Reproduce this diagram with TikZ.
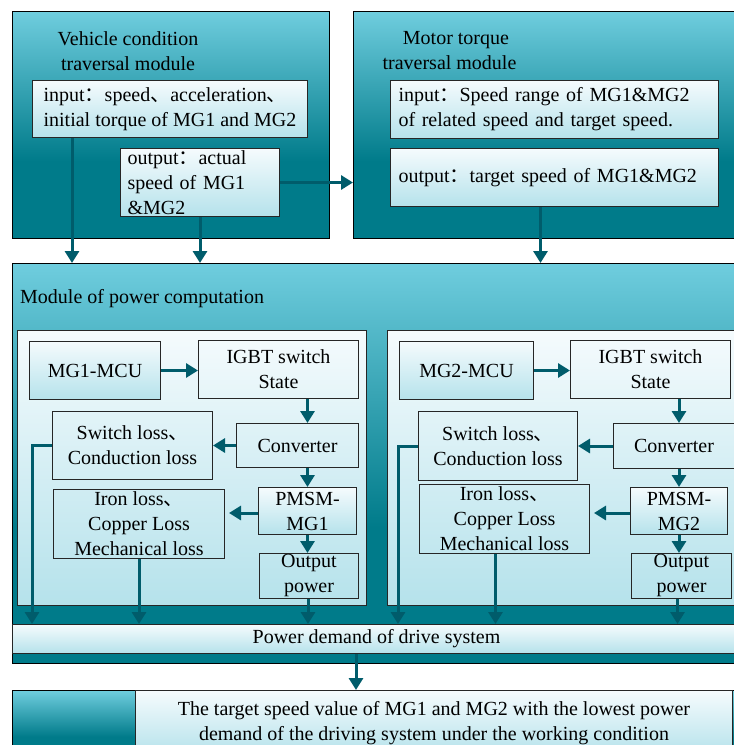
\documentclass[tikz,border=0pt]{standalone}
\usepackage{fontspec}
\setmainfont{Liberation Serif}
\newfontfamily\cjk{Noto Sans CJK SC}
\usetikzlibrary{arrows.meta}
\definecolor{tl}{HTML}{6FCDDE}
\definecolor{td}{HTML}{007B8A}
\definecolor{ac}{HTML}{005C6B}
\definecolor{bt}{HTML}{F5FBFD}
\definecolor{bb}{HTML}{B5E2EB}
\pgfdeclareverticalshading{tealsh}{100bp}{color(0bp)=(td); color(25bp)=(td); color(42bp)=(td); color(75bp)=(tl); color(100bp)=(tl)}
\pgfdeclareverticalshading{lightsh}{100bp}{color(0bp)=(bb); color(25bp)=(bb); color(75bp)=(bt); color(100bp)=(bt)}
\newcommand{\cc}[1]{{\cjk #1}}
\tikzset{
  tealbox/.style={draw=black, line width=1pt, shading=tealsh, inner sep=0pt, anchor=north west},
  lbox/.style={draw=black!85, line width=1pt, shading=lightsh, inner sep=0pt, anchor=north west, align=center},
  obox/.style={draw=black!85, line width=1pt, inner sep=0pt, anchor=north west, align=center},
  txt/.style={inner sep=0pt, align=center},
  arr/.style={draw=ac, line width=3pt, -{Triangle[width=14pt,length=12pt]}},
  ln/.style={draw=ac, line width=3pt}
}
\begin{document}
\begin{tikzpicture}[x=1pt,y=-1pt,font=\fontsize{20}{25}\selectfont]
\useasboundingbox (0,0) rectangle (734,745);
\begin{scope}
\clip (0,0) rectangle (734,745);
\fill[white] (0,0) rectangle (734,745);
% top modules
\node[tealbox, minimum width=317pt, minimum height=227pt] (veh) at (12,11) {};
\node[tealbox, minimum width=392pt, minimum height=227pt] (mot) at (353,11) {};
\node[txt] (vehT) at (128,51) {Vehicle condition\\traversal module};
\node[txt] (motT) at (456,51) {Motor torque\\\hspace*{-13pt}traversal module};
\node[lbox, minimum width=275pt, minimum height=57pt, align=left] (vin) at (32,80) {input\cc{：}speed\cc{、}acceleration\cc{、}\\initial torque of MG1 and MG2};
\node[lbox, minimum width=159pt, minimum height=68pt, text width=145pt, inner xsep=7pt, align=left] (vout) at (120,148) {output\cc{：}actual\\speed of MG1\\\&MG2};
\node[lbox, minimum width=328pt, minimum height=58pt, text width=312pt, inner xsep=8pt, align=left] (min) at (390,80) {input\cc{：}Speed range of MG1\&MG2\\of related speed and target speed.};
\node[lbox, minimum width=328pt, minimum height=58pt, text width=312pt, inner xsep=8pt, align=left] (mout) at (390,148) {output\cc{：}target speed of MG1\&MG2};
% power module
\node[tealbox, minimum width=740pt, minimum height=400pt] (pm) at (12,263) {};
\node[inner sep=0pt, anchor=west] (pmT) at (20,299) {Module of power computation};
\node[lbox, minimum width=349pt, minimum height=275pt] (lp) at (17,330) {};
\node[lbox, minimum width=360pt, minimum height=275pt] (rp) at (387,330) {};
% left panel
\node[lbox, minimum width=131pt, minimum height=58pt] (mcu1) at (29,341) {MG1-MCU};
\node[obox, minimum width=160pt, minimum height=58pt] (igbt1) at (198,340) {IGBT switch\\State};
\node[obox, minimum width=122pt, minimum height=44pt] (conv1) at (236,423) {Converter};
\node[obox, minimum width=160pt, minimum height=68pt] (sw1) at (52,411) {Switch loss\cc{、}\\Conduction loss};
\node[obox, minimum width=171pt, minimum height=69pt] (iron1) at (53,489) {Iron loss\cc{、}\\Copper Loss\\Mechanical loss};
\node[lbox, minimum width=98pt, minimum height=47pt] (pmsm1) at (258,487) {PMSM-\\MG1};
\node[obox, minimum width=99pt, minimum height=45pt] (out1) at (259,553) {Output\\power};
% right panel
\node[lbox, minimum width=134pt, minimum height=58pt] (mcu2) at (399,341) {MG2-MCU};
\node[obox, minimum width=160pt, minimum height=58pt] (igbt2) at (570,340) {IGBT switch\\State};
\node[obox, minimum width=121pt, minimum height=45pt] (conv2) at (613,423) {Converter};
\node[obox, minimum width=159pt, minimum height=69pt] (sw2) at (418,411) {Switch loss\cc{、}\\Conduction loss};
\node[obox, minimum width=170pt, minimum height=69pt] (iron2) at (419,484) {Iron loss\cc{、}\\Copper Loss\\Mechanical loss};
\node[lbox, minimum width=97pt, minimum height=47pt] (pmsm2) at (630,487) {PMSM-\\MG2};
\node[obox, minimum width=100pt, minimum height=45pt] (out2) at (631,553) {Output\\power};
% bar
\node[lbox, minimum width=728pt, minimum height=29pt] (bar) at (12,624) {Power demand of drive system};
% bottom
\node[tealbox, minimum width=740pt, minimum height=70pt] (bot) at (12,690) {};
\node[lbox, minimum width=597pt, minimum height=65pt] (res) at (135,690) {The target speed value of MG1 and MG2 with the lowest power\\demand of the driving system under the working condition};
% arrows top
\draw[arr] (vout.east) -- (vout.east -| mot.west);
\coordinate (a1) at ([xshift=40pt]vin.south west);
\draw[arr] (a1) -- (a1 |- pm.north);
\draw[arr] (vout.south) -- (vout.south |- pm.north);
\coordinate (a2) at ([xshift=-14pt]mout.south);
\draw[arr] (a2) -- (a2 |- pm.north);
% left panel arrows
\draw[arr] (mcu1.east) -- (mcu1.east -| igbt1.west);
\draw[arr] (igbt1.south -| pmsm1.north) -- (conv1.north -| pmsm1.north);
\draw[arr] (conv1.west) -- (conv1.west -| sw1.east);
\draw[arr] (conv1.south -| pmsm1.north) -- (pmsm1.north);
\coordinate (p1) at ([yshift=-2pt]pmsm1.west);
\draw[arr] (p1) -- ([xshift=4pt]p1 -| iron1.east);
\draw[arr] (pmsm1.south) -- (pmsm1.south |- out1.north);
\coordinate (s1) at ([xshift=-20pt]sw1.west);
\draw[arr] (sw1.west) -- (s1) -- (s1 |- bar.north);
\draw[arr] (iron1.south) -- (iron1.south |- bar.north);
\coordinate (o1) at ([xshift=-1pt]out1.south);
\draw[arr] (o1) -- (o1 |- bar.north);
% right panel arrows
\draw[arr] (mcu2.east) -- (mcu2.east -| igbt2.west);
\draw[arr] (igbt2.south -| pmsm2.north) -- (conv2.north -| pmsm2.north);
\draw[arr] (conv2.west) -- (conv2.west -| sw2.east);
\draw[arr] (conv2.south -| pmsm2.north) -- (pmsm2.north);
\coordinate (p2) at ([yshift=-2pt]pmsm2.west);
\draw[arr] (p2) -- ([xshift=4pt]p2 -| iron2.east);
\draw[arr] (pmsm2.south) -- (pmsm2.south |- out2.north);
\coordinate (s2) at ([xshift=-20pt]sw2.west);
\draw[arr] (sw2.west) -- (s2) -- (s2 |- bar.north);
\coordinate (i2) at ([xshift=-9pt]iron2.south);
\draw[arr] (i2) -- (i2 |- bar.north);
\coordinate (o2) at ([xshift=-4pt]out2.south);
\draw[arr] (o2) -- (o2 |- bar.north);
% bar to bottom
\coordinate (b1) at ([xshift=344pt]bar.south west);
\draw[arr] (b1) -- (b1 |- res.north);
\end{scope}
\end{tikzpicture}
\end{document}
